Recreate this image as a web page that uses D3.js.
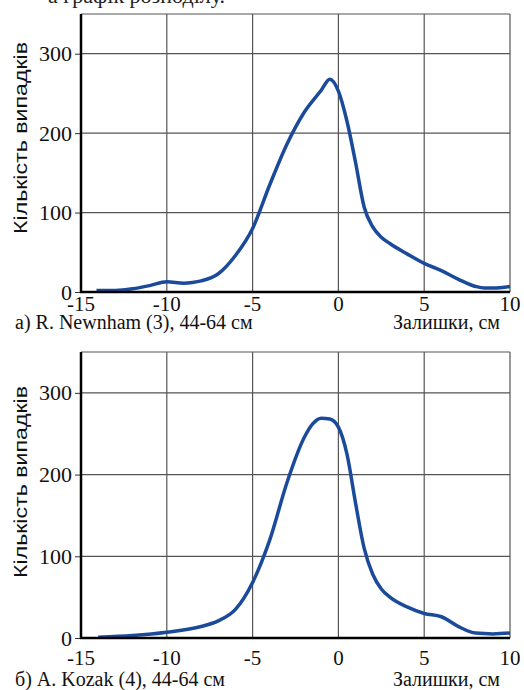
<!DOCTYPE html>
<html>
<head>
<meta charset="utf-8">
<script src="https://cdn.jsdelivr.net/npm/d3@7"></script>
<style>
  body { margin: 0; background: #fff; }
  svg { display: block; }
</style>
</head>
<body>
<svg id="chart" width="524" height="690"></svg>
<script>
// residual distributions
const xTicks = [-15, -10, -5, 0, 5, 10];
const yTicks = [0, 100, 200, 300];

const newnhamX = [-14.1, -13, -12, -11, -10, -9, -8.5, -8, -7, -6, -5, -4, -3, -2, -1, -0.5, 0, 0.5, 1, 1.5, 2, 2.5, 3, 4, 5, 6, 7, 8, 8.5, 9, 10];
const newnhamY = [2, 2, 4, 8, 13, 11, 12, 14, 23, 46, 80, 135, 186, 226, 254, 268, 253, 215, 163, 107, 82, 69, 61, 48, 36, 27, 16, 7, 5, 5, 7];

const kozakX = [-14, -12, -10, -8, -7, -6, -5, -4, -3, -2, -1.5, -1, -0.5, 0, 0.5, 1, 1.5, 2, 2.5, 3, 4, 5, 6, 7, 8, 9, 10];
const kozakY = [1, 3, 7, 14, 21, 35, 68, 120, 190, 245, 262, 269, 268, 258, 225, 165, 110, 78, 60, 50, 38, 30, 26, 14, 6, 5, 6];

const svg = d3.select("#chart");

// cut-off line of the page text above the figure
svg.append("text")
    .attr("x", 48).attr("y", 3)
    .attr("font-family", "Liberation Serif")
    .attr("font-size", 22)
    .attr("fill", "#222")
    .text("а графік розподілу.");

function panel(xs, ys, o) {
    const x = d3.scaleLinear().domain([-15, 10]).range([81, 510]);
    const y = d3.scaleLinear().domain([0, 350]).range([o.bottom, o.top]);
    const g = svg.append("g");

    // grid
    g.selectAll(".vg").data(xTicks.slice(1)).join("line")
        .attr("x1", d => x(d)).attr("x2", d => x(d))
        .attr("y1", y(350)).attr("y2", y(0))
        .attr("stroke", "#555").attr("stroke-width", 1.2);
    g.selectAll(".hg").data(yTicks.slice(1).concat([350])).join("line")
        .attr("x1", x(-15)).attr("x2", x(10))
        .attr("y1", d => y(d)).attr("y2", d => y(d))
        .attr("stroke", "#555").attr("stroke-width", 1.2);

    const line = d3.line()
        .x((d, i) => x(xs[i]))
        .y(d => y(d))
        .curve(d3.curveMonotoneX);

    g.append("path")
        .datum(ys)
        .attr("fill", "none")
        .attr("stroke", "#1c4a9a")
        .attr("stroke-width", 3.5)
        .attr("stroke-linejoin", "round")
        .attr("d", line);

    // axes
    const yAxis = d3.axisLeft(y).tickValues(yTicks).tickSize(6).tickPadding(3);
    const ya = g.append("g").attr("transform", `translate(${x(-15)},0)`)
        .call(yAxis);
    ya.attr("font-family", "Liberation Serif").attr("font-size", 22);
    ya.select(".domain").remove();
    ya.selectAll("line").attr("stroke", "#333");
    ya.selectAll("text").attr("fill", "#111");

    g.append("line")
        .attr("x1", x(-15)).attr("x2", x(-15))
        .attr("y1", y(350)).attr("y2", y(0) + 1)
        .attr("stroke", "#000").attr("stroke-width", 2.5);
    g.append("line")
        .attr("x1", x(-15) - 1).attr("x2", x(10))
        .attr("y1", y(0)).attr("y2", y(0))
        .attr("stroke", "#000").attr("stroke-width", 2.5);

    g.selectAll(".xl").data(xTicks).join("text")
        .attr("x", d => x(d))
        .attr("y", y(0) + o.tickDy)
        .attr("text-anchor", "middle")
        .attr("font-family", "Liberation Serif")
        .attr("font-size", 21)
        .attr("fill", "#111")
        .text(d => d);

    g.append("text")
        .attr("x", 15).attr("y", y(0) + o.capDy)
        .attr("font-family", "Liberation Serif")
        .attr("font-size", 20)
        .attr("fill", "#111")
        .text(o.caption);

    g.append("text")
        .attr("x", 500).attr("y", y(0) + o.capDy)
        .attr("text-anchor", "end")
        .attr("font-family", "Liberation Serif")
        .attr("font-size", 20)
        .attr("fill", "#111")
        .text("Залишки, см");

    g.append("text")
        .attr("transform", `translate(27,${o.labelY}) rotate(-90)`)
        .attr("text-anchor", "middle")
        .attr("font-family", "Liberation Sans")
        .attr("font-size", 19)
        .attr("textLength", 192)
        .attr("lengthAdjust", "spacingAndGlyphs")
        .attr("fill", "#111")
        .text("Кількість випадків");
}

panel(newnhamX, newnhamY, {
    top: 14, bottom: 292, tickDy: 19, capDy: 37, labelY: 138,
    caption: "а) R. Newnham (3), 44-64 см"
});
panel(kozakX, kozakY, {
    top: 352, bottom: 638, tickDy: 27, capDy: 48, labelY: 482,
    caption: "б) A. Kozak (4), 44-64 см"
});
</script>
</body>
</html>
